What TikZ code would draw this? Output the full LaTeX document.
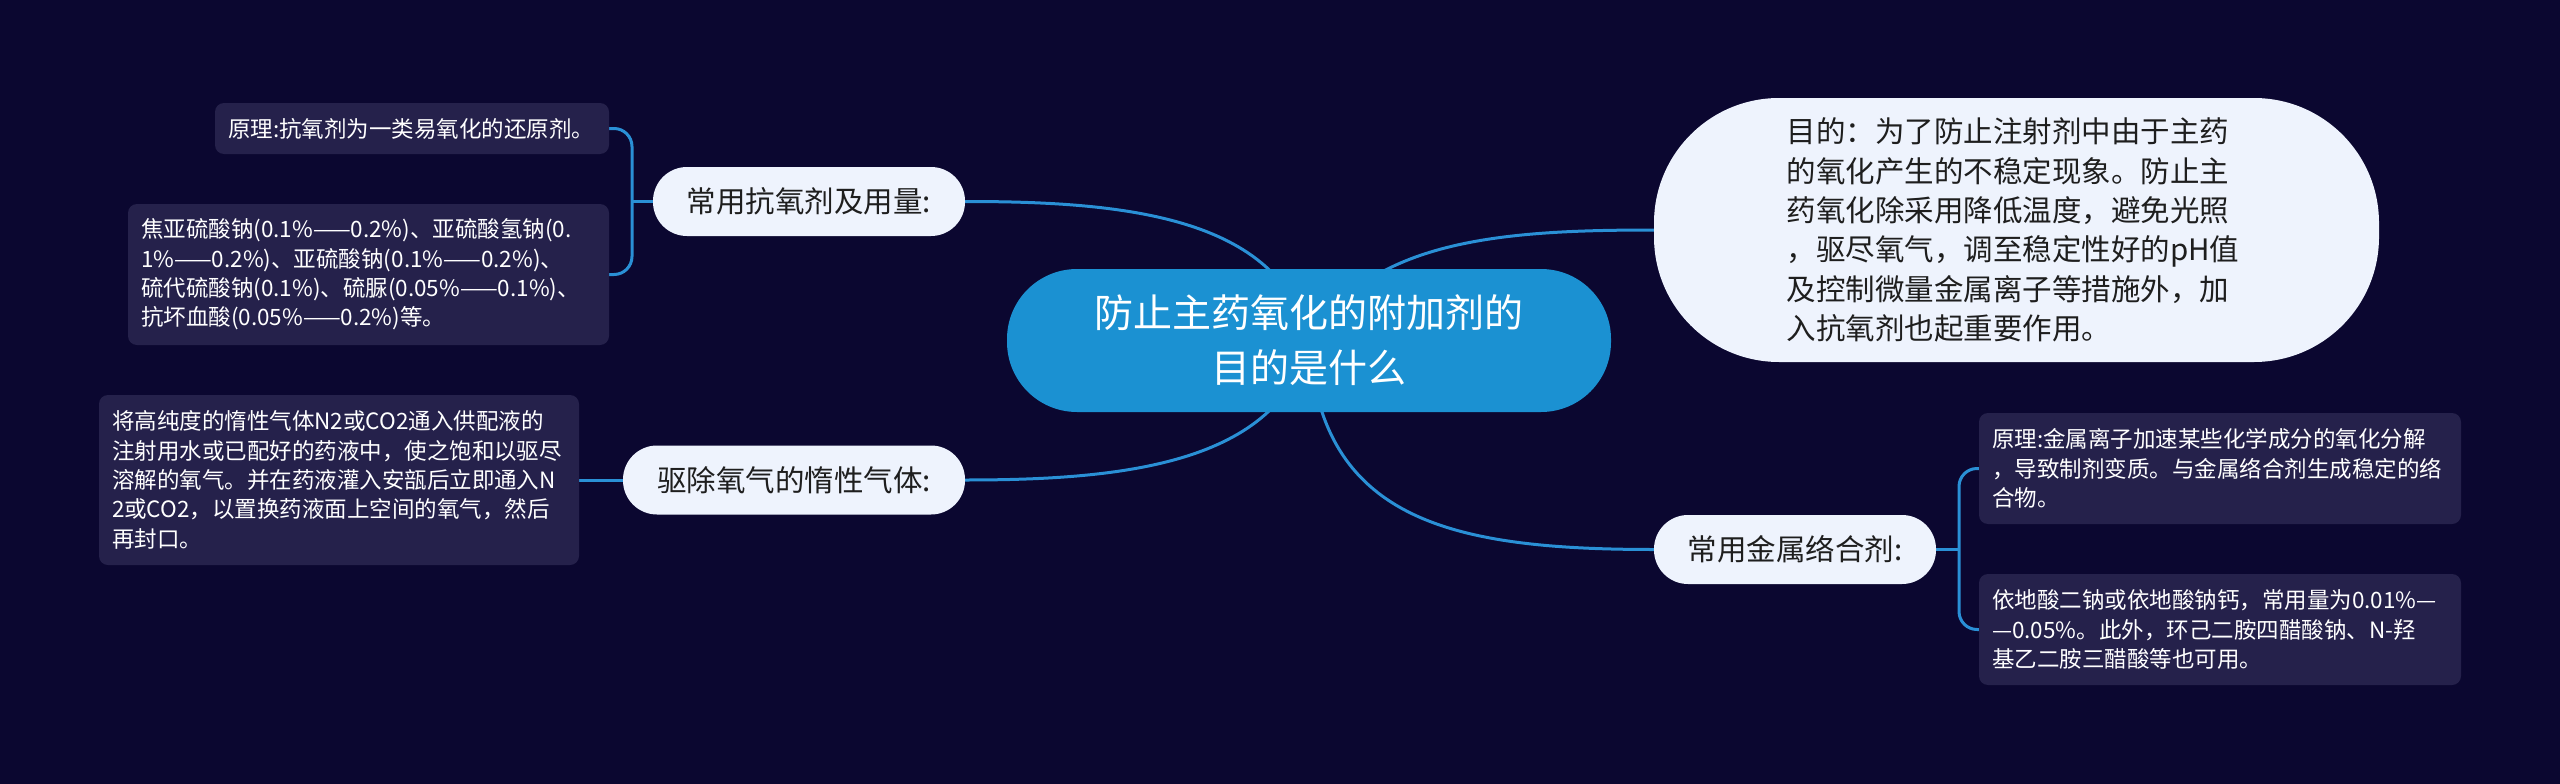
\documentclass[tikz,border=0pt]{standalone}
\usepackage{fontspec}
\newfontfamily\cjk{Noto Sans CJK SC}
\definecolor{bgc}{HTML}{0B0730}
\definecolor{linec}{HTML}{2A90D6}
\definecolor{rootc}{HTML}{1B91D2}
\definecolor{lightc}{HTML}{EEF3FD}
\definecolor{boxc}{HTML}{25214B}
\definecolor{darktext}{HTML}{1E1E1E}
\pgfdeclarelayer{bglayer}
\pgfdeclarelayer{linelayer}
\pgfsetlayers{bglayer,linelayer,main}
\begin{document}
\begin{tikzpicture}[x=1pt,y=-1pt,
  conn/.style={draw=linec,line width=3pt},
  rootnode/.style={fill=rootc,rounded corners=70pt,minimum width=604pt,minimum height=143pt,text=white,align=center,font=\cjk\fontsize{39}{55}\selectfont,inner sep=0pt,outer sep=0pt},
  topic/.style={fill=lightc,rounded corners=34pt,minimum height=69pt,text=darktext,font=\cjk\fontsize{29.5}{38}\selectfont,inner sep=0pt,outer sep=0pt},
  goalnode/.style={fill=lightc,rounded corners=125pt,minimum width=725pt,minimum height=264pt,text width=460pt,align=left,text=darktext,font=\cjk\fontsize{29.5}{39.3}\selectfont,inner sep=0pt,outer sep=0pt},
  leaf/.style={fill=boxc,rounded corners=9pt,text=white,align=left,font=\cjk\fontsize{22.5}{29.3}\selectfont,inner ysep=0pt,inner xsep=13pt,outer sep=0pt},
]
\useasboundingbox (0,0) rectangle (2560,784);
\begin{pgfonlayer}{bglayer}
\fill[bgc] (0,0) rectangle (2560,784);
\end{pgfonlayer}

\node[rootnode] (root) at (1309,340.5) {防止主药氧化的附加剂的\\目的是什么};
\node[topic,minimum width=312pt] (n1) at (809,201.5) {常用抗氧剂及用量:};
\node[topic,minimum width=342pt] (n2) at (794,480) {驱除氧气的惰性气体:};
\node[topic,minimum width=282pt] (n3) at (1795,549.5) {常用金属络合剂:};
\node[goalnode] (goal) at (2016.5,230) {目的：为了防止注射剂中由于主药\\的氧化产生的不稳定现象。防止主\\药氧化除采用降低温度，避免光照\\，驱尽氧气，调至稳定性好的pH值\\及控制微量金属离子等措施外，加\\入抗氧剂也起重要作用。};

\node[leaf,minimum width=394pt,minimum height=51pt,text width=368pt] (a1) at (412,128.5) {原理:抗氧剂为一类易氧化的还原剂。};
\node[leaf,minimum width=481pt,minimum height=141pt,text width=455pt] (a2) at (368.5,274.5) {焦亚硫酸钠(0.1\%——0.2\%)、亚硫酸氢钠(0.\\1\%——0.2\%)、亚硫酸钠(0.1\%——0.2\%)、\\硫代硫酸钠(0.1\%)、硫脲(0.05\%——0.1\%)、\\抗坏血酸(0.05\%——0.2\%)等。};
\node[leaf,minimum width=480pt,minimum height=170pt,text width=454pt] (c1) at (339,480) {将高纯度的惰性气体N2或CO2通入供配液的\\注射用水或已配好的药液中，使之饱和以驱尽\\溶解的氧气。并在药液灌入安瓿后立即通入N\\2或CO2，以置换药液面上空间的氧气，然后\\再封口。};
\node[leaf,minimum width=482pt,minimum height=111pt,text width=456pt] (m1) at (2220,468.5) {原理:金属离子加速某些化学成分的氧化分解\\，导致制剂变质。与金属络合剂生成稳定的络\\合物。};
\node[leaf,minimum width=482pt,minimum height=111pt,text width=456pt] (m2) at (2220,629.5) {依地酸二钠或依地酸钠钙，常用量为0.01\%—\\—0.05\%。此外，环己二胺四醋酸钠、N-羟\\基乙二胺三醋酸等也可用。};

\coordinate (j1) at (632,201.5);
\coordinate (j2) at (1959,549.5);
\begin{pgfonlayer}{linelayer}
\draw[conn] (root.center) .. controls (1280,215) and (1120,201.5) .. (n1.east);
\draw[conn] (root.center) .. controls (1280,465) and (1120,480) .. (n2.east);
\draw[conn] (root.center) .. controls (1370,240) and (1500,230) .. (goal.west);
\draw[conn] (root.center) .. controls (1320,520) and (1450,549.5) .. (n3.west);
\draw[conn] (n1.west) -- (j1);
\draw[conn,rounded corners=18pt] (a1.east) -- (632,128.5) -- (632,274.5) -- (a2.east);
\draw[conn] (n2.west) -- (c1.east);
\draw[conn] (n3.east) -- (j2);
\draw[conn,rounded corners=18pt] (m1.west) -- (1959,468.5) -- (1959,629.5) -- (m2.west);
\end{pgfonlayer}
\end{tikzpicture}
\end{document}
